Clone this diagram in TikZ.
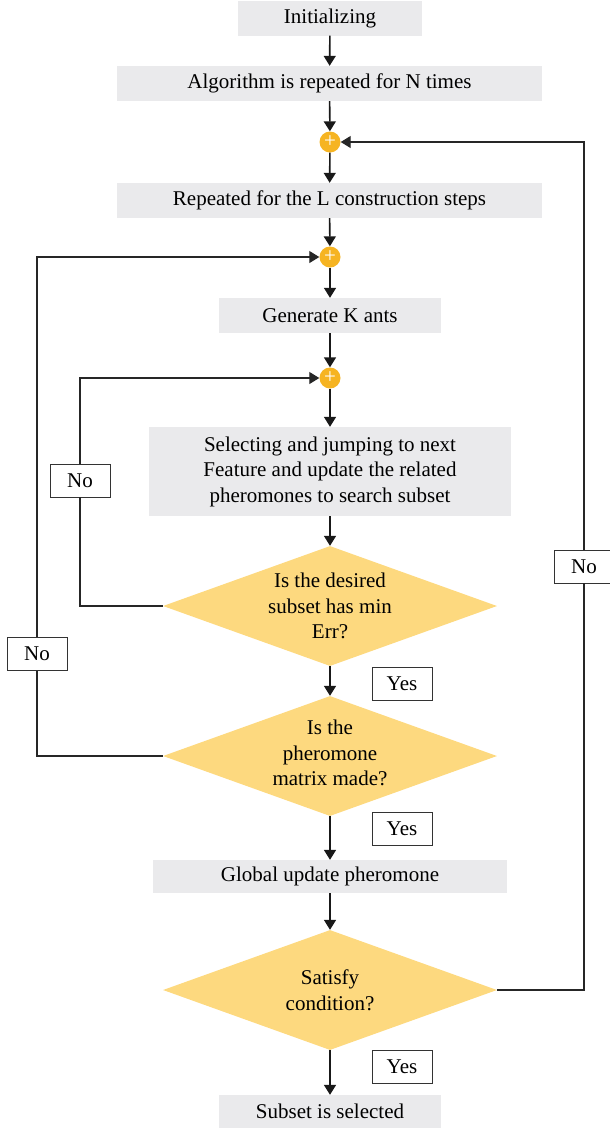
\documentclass[tikz,border=0pt]{standalone}
\usepackage{fontspec}
\setmainfont{Liberation Serif}
\usetikzlibrary{shapes.geometric,arrows.meta}
\definecolor{boxgray}{HTML}{EAEAEC}
\definecolor{decyellow}{HTML}{FDD97F}
\definecolor{plusorange}{HTML}{F6B422}

\begin{document}
\begin{tikzpicture}[x=1pt,y=-1pt,
  every node/.style={font=\fontsize{21}{25.5}\selectfont},
  stepbox/.style={fill=boxgray,minimum height=35,inner sep=0,align=center},
  decision/.style={diamond,fill=decyellow,minimum width=334,minimum height=120,inner sep=0},
  answer/.style={draw=black!80,fill=white,line width=0.9pt,minimum width=60,minimum height=33,inner sep=0},
  junction/.style={circle,fill=plusorange,minimum size=21,inner sep=0,text=white,font=\fontsize{21}{21}\selectfont},
  tip/.style={-{Triangle[width=12pt,length=10pt]}},
  arr/.style={tip,line width=1.6pt,black!90},
  back/.style={line width=1.1pt,black!85}]
  \useasboundingbox (0,0) rectangle (610,1128);

  % main column
  \node[stepbox,minimum width=184] (init) at (330,18) {Initializing};
  \node[stepbox,minimum width=425] (algo) at (329.5,83.5) {Algorithm is repeated for N times};
  \node[junction] (j1) at (330,142) {+};
  \node[stepbox,minimum width=425] (rep) at (329.5,200.5) {Repeated for the L construction steps};
  \node[junction] (j2) at (330,257) {+};
  \node[stepbox,minimum width=222] (gen) at (330,315.5) {Generate K ants};
  \node[junction] (j3) at (330,378) {+};
  \node[stepbox,minimum width=362,minimum height=89] (sel) at (330,471.5)
    {Selecting and jumping to next\\Feature and update the related\\pheromones to search subset};
  \node[decision,label={[align=center]center:Is the desired\\subset has min\\Err?}] (d1) at (330,606) {};
  \node[decision,label={[align=center,yshift=3]center:Is the\\pheromone\\matrix made?}] (d2) at (330,756) {};
  \node[stepbox,minimum width=354,minimum height=33] (glob) at (330,876.5) {Global update pheromone};
  \node[decision,label={[align=center]center:Satisfy\\condition?}] (d3) at (330,990) {};
  \node[stepbox,minimum width=222,minimum height=33] (sub) at (330,1111.5) {Subset is selected};

  % yes / no labels
  \node[answer] (yes1) at (402,683.5) {Yes};
  \node[answer] (yes2) at (402,829) {Yes};
  \node[answer] (yes3) at (402,1066.5) {Yes};
  \node[answer] (no1) at (80,480.5) {No};
  \node[answer] (no2) at (37,654) {No};
  \node[answer] (no3) at (584,566.5) {No};

  \draw[arr] (init) -- (algo);
  \draw[arr] (algo) -- (j1);
  \draw[arr] (j1) -- (rep);
  \draw[arr] (rep) -- (j2);
  \draw[arr] (j2) -- (gen);
  \draw[arr] (gen) -- (j3);
  \draw[arr] (j3) -- (sel);
  \draw[arr] (sel) -- (d1);
  \draw[arr] (d1) -- (d2);
  \draw[arr] (d2) -- (glob);
  \draw[arr] (glob) -- (d3);
  \draw[arr] (d3) -- (sub);

  % loops back
  \draw[back] (d1.west) -| (no1.south);
  \draw[back,tip] (no1.north) |- (j3.west);
  \draw[back] (d2.west) -| (no2.south);
  \draw[back,tip] (no2.north) |- (j2.west);
  \draw[back] (d3.east) -| (no3.south);
  \draw[back,tip] (no3.north) |- (j1.east);
\end{tikzpicture}
\end{document}
